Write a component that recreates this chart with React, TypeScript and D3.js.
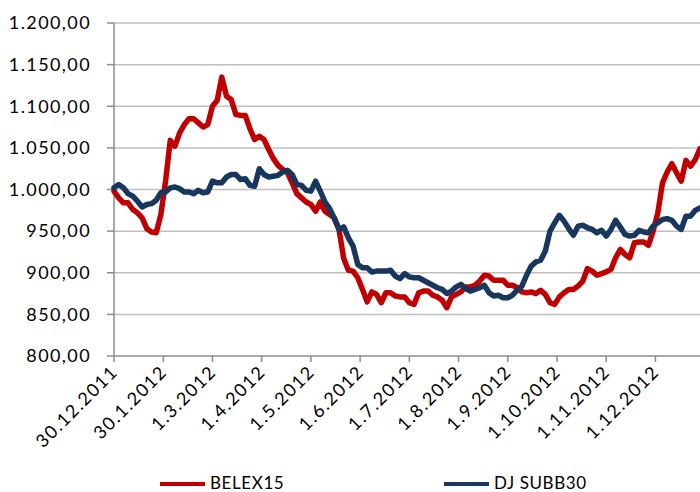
import React from 'react';
import * as d3 from 'd3';

const belex15 = [
  998, 990, 984, 984, 976, 972, 966, 953, 949, 948,
  970, 1010, 1059, 1052, 1068, 1078, 1085, 1085, 1080, 1075,
  1078, 1100, 1107, 1135, 1112, 1108, 1090, 1089, 1089, 1073,
  1060, 1064, 1060, 1048, 1037, 1029, 1024, 1020, 1008, 995,
  990, 985, 982, 974, 985, 974, 970, 966, 952, 917,
  903, 902, 894, 880, 865, 877, 874, 864, 876, 876,
  872, 871, 871, 864, 862, 876, 878, 878, 873, 871,
  867, 858, 871, 874, 877, 883, 883, 885, 890, 897,
  896, 891, 891, 891, 885, 885, 882, 877, 876, 877,
  875, 879, 874, 864, 862, 871, 876, 880, 880, 884,
  890, 905, 902, 897, 899, 901, 904, 918, 928, 922,
  918, 936, 937, 937, 933, 950, 972, 1008, 1021, 1031,
  1020, 1010, 1035, 1028, 1036, 1049,
];

const djSubb30 = [
  1002, 1006, 1002, 995, 992, 986, 979, 982, 983, 987,
  996, 997, 1002, 1003, 1001, 997, 997, 995, 999, 996,
  997, 1010, 1008, 1008, 1015, 1018, 1018, 1012, 1013, 1005,
  1004, 1025, 1018, 1015, 1016, 1017, 1021, 1023, 1018, 1006,
  1005, 999, 998, 1010, 998, 985, 977, 965, 952, 955,
  942, 932, 910, 906, 906, 901, 902, 902, 902, 903,
  896, 893, 899, 895, 894, 894, 891, 888, 885, 882,
  880, 875, 878, 883, 886, 881, 878, 880, 882, 885,
  876, 872, 873, 870, 870, 873, 879, 884, 897, 908,
  913, 915, 926, 950, 960, 969, 962, 953, 945, 956,
  957, 954, 952, 948, 951, 944, 952, 963, 955, 946,
  944, 945, 951, 949, 948, 956, 960, 964, 965, 963,
  956, 952, 968, 968, 975, 978,
];

const sampleStep = 2;
const totalDays = 250;

const tickDays = [0, 21, 42, 63, 84, 105, 126, 147, 168, 189, 210, 231];
const tickLabels = [
  '30.12.2011', '30.1.2012', '1.3.2012', '1.4.2012', '1.5.2012', '1.6.2012',
  '1.7.2012', '1.8.2012', '1.9.2012', '1.10.2012', '1.11.2012', '1.12.2012',
];
const yTicks = [800, 850, 900, 950, 1000, 1050, 1100, 1150, 1200];

const seriesNames = ['BELEX15', 'DJ SUBB30'];
const seriesColors = ['#C00000', '#17375E'];

const locale = d3.formatLocale({
  decimal: ',',
  thousands: '.',
  grouping: [3],
  currency: ['', ''],
});
const fmt = locale.format(',.2f');

const FONT = 'Lato, "Open Sans", sans-serif';

export default function App() {
  const W = 700;
  const H = 492;
  const x = d3.scaleLinear().domain([0, totalDays]).range([114, 700]);
  const y = d3.scaleLinear().domain([800, 1200]).range([356, 23]);

  const line = d3
    .line<number>()
    .x((_, i) => x(i * sampleStep))
    .y((d) => y(d));

  const series = [belex15, djSubb30];

  return (
    <svg
      width={W}
      height={H}
      style={{ position: 'absolute', left: 0, top: 0, background: '#fff' }}
    >
      {/* gridlines */}
      {yTicks.slice(1).map((t) => (
        <line
          key={'g' + t}
          x1={x(0)}
          x2={W}
          y1={y(t)}
          y2={y(t)}
          stroke="#C0C0C0"
          strokeWidth={1.5}
        />
      ))}
      {/* y axis */}
      <line x1={x(0)} x2={x(0)} y1={y(1200)} y2={y(800)} stroke="#8C8C8C" strokeWidth={1.5} />
      {yTicks.map((t) => (
        <g key={'y' + t}>
          <line x1={x(0) - 7} x2={x(0)} y1={y(t)} y2={y(t)} stroke="#8C8C8C" strokeWidth={1.5} />
          <text
            x={91}
            y={y(t)}
            dy="0.35em"
            textAnchor="end"
            fontFamily={FONT}
            fontSize={18}
            letterSpacing={1.4}
            fill="#000"
          >
            {fmt(t)}
          </text>
        </g>
      ))}
      {/* x axis */}
      <line x1={x(0)} x2={W} y1={y(800)} y2={y(800)} stroke="#8C8C8C" strokeWidth={1.5} />
      {tickDays.map((d, i) => (
        <g key={'x' + d}>
          <line x1={x(d)} x2={x(d)} y1={y(800)} y2={y(800) + 6} stroke="#8C8C8C" strokeWidth={1.5} />
          <text
            transform={`translate(${x(d) + 5},${y(800) + 17}) rotate(-45)`}
            textAnchor="end"
            fontFamily={FONT}
            fontSize={18}
            letterSpacing={1.5}
            fill="#000"
          >
            {tickLabels[i]}
          </text>
        </g>
      ))}
      {/* series lines */}
      {series.map((s, i) => (
        <path
          key={seriesNames[i]}
          d={line(s) || ''}
          fill="none"
          stroke={seriesColors[i]}
          strokeWidth={5.5}
          strokeLinejoin="round"
          strokeLinecap="round"
        />
      ))}
      {/* legend */}
      {seriesNames.map((n, i) => {
        const lx = i === 0 ? 160 : 444;
        return (
          <g key={'l' + n}>
            <line x1={lx} x2={lx + 45} y1={484} y2={484} stroke={seriesColors[i]} strokeWidth={4} />
            <text
              x={lx + 50}
              y={483}
              dy="0.35em"
              fontFamily={FONT}
              fontSize={17}
              letterSpacing={0.6}
              fill="#000"
            >
              {n}
            </text>
          </g>
        );
      })}
    </svg>
  );
}
